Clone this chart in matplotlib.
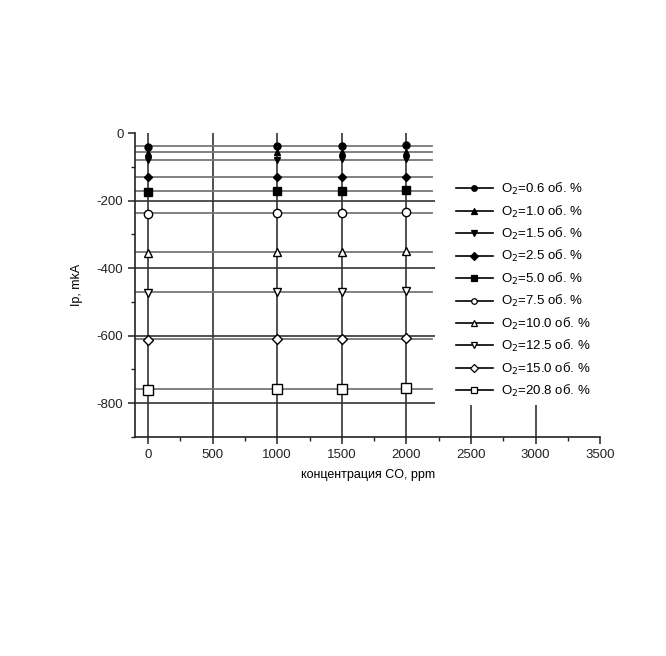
import matplotlib
matplotlib.use("Agg")
import matplotlib.pyplot as plt
from matplotlib.patches import Rectangle

plt.rcParams['font.family'] = ['Liberation Sans', 'DejaVu Sans']
plt.rcParams['axes.unicode_minus'] = False

# concentration CO, ppm
conc = [0, 1000, 1500, 2000]
# line extent of each series (from left axis to right end)
line_x = [-100, 2200]

o2_levels = ['0.6', '1.0', '1.5', '2.5', '5.0', '7.5', '10.0', '12.5', '15.0', '20.8']
ip_values = [
    [-42, -38, -37, -35],
    [-58, -57, -56, -55],
    [-80, -79, -78, -77],
    [-130, -130, -130, -130],
    [-175, -172, -170, -167],
    [-240, -238, -236, -234],
    [-354, -352, -351, -350],
    [-473, -471, -470, -469],
    [-612, -610, -609, -608],
    [-760, -758, -757, -755],
]
markers = ['o', '^', 'v', 'D', 's', 'o', '^', 'v', 'D', 's']
filled = [True] * 5 + [False] * 5
msizes = [5, 5, 5, 4.5, 6, 6, 5.5, 5.5, 5, 6.5]

fig = plt.figure(figsize=(6.66, 6.56), dpi=100)
ax = fig.add_axes([0.203, 0.334, 0.698, 0.463])

for lev, vals, m, f, ms in zip(o2_levels, ip_values, markers, filled, msizes):
    mean = sum(vals) / len(vals)
    ax.plot(line_x, [mean, mean], color='#777777', lw=1.3, zorder=2)
    ax.plot(conc, vals, linestyle='none', marker=m, ms=ms,
            mfc='black' if f else 'white', mec='black', mew=1.0, zorder=4)
    ax.plot([], [], color='black', lw=1.2, marker=m, ms=4,
            mfc='black' if f else 'white', mec='black', mew=0.9,
            label='O$_2$=' + lev + ' об. %')

ax.set_xlim(-100, 3500)
ax.set_ylim(-900, 0)
ax.set_xticks(range(0, 3501, 500))
ax.set_xticks(range(250, 3500, 500), minor=True)
ax.set_yticks(range(-800, 1, 200))
ax.set_yticks(range(-900, 0, 200), minor=True)

ax.grid(True, which='major', color='#333333', lw=1.2, zorder=1)
ax.get_xgridlines()[-1].set_visible(False)
ax.get_ygridlines()[-1].set_visible(False)
ax.set_axisbelow(True)

# white area behind the legend
ax.add_patch(Rectangle((2220, -805), 1400, 810, facecolor='white',
                       edgecolor='none', zorder=3))

for s in ['top', 'right']:
    ax.spines[s].set_visible(False)
for s in ['left', 'bottom']:
    ax.spines[s].set_linewidth(1.2)
    ax.spines[s].set_color('#222222')

ax.tick_params(which='major', direction='out', length=5, width=1.1, labelsize=9.5, colors='#222222')
ax.tick_params(which='minor', direction='out', length=3, width=1.0, colors='#222222')

ax.set_xlabel('концентрация CO, ppm', fontsize=9, labelpad=6)
ax.set_ylabel('Ip, mkA', fontsize=9, labelpad=10)

leg = ax.legend(loc='upper left', bbox_to_anchor=(0.678, 0.86), frameon=False,
                fontsize=9.5, handlelength=2.8, labelspacing=0.48,
                handletextpad=0.6, borderaxespad=0)

fig.savefig('out.png', dpi=100)
